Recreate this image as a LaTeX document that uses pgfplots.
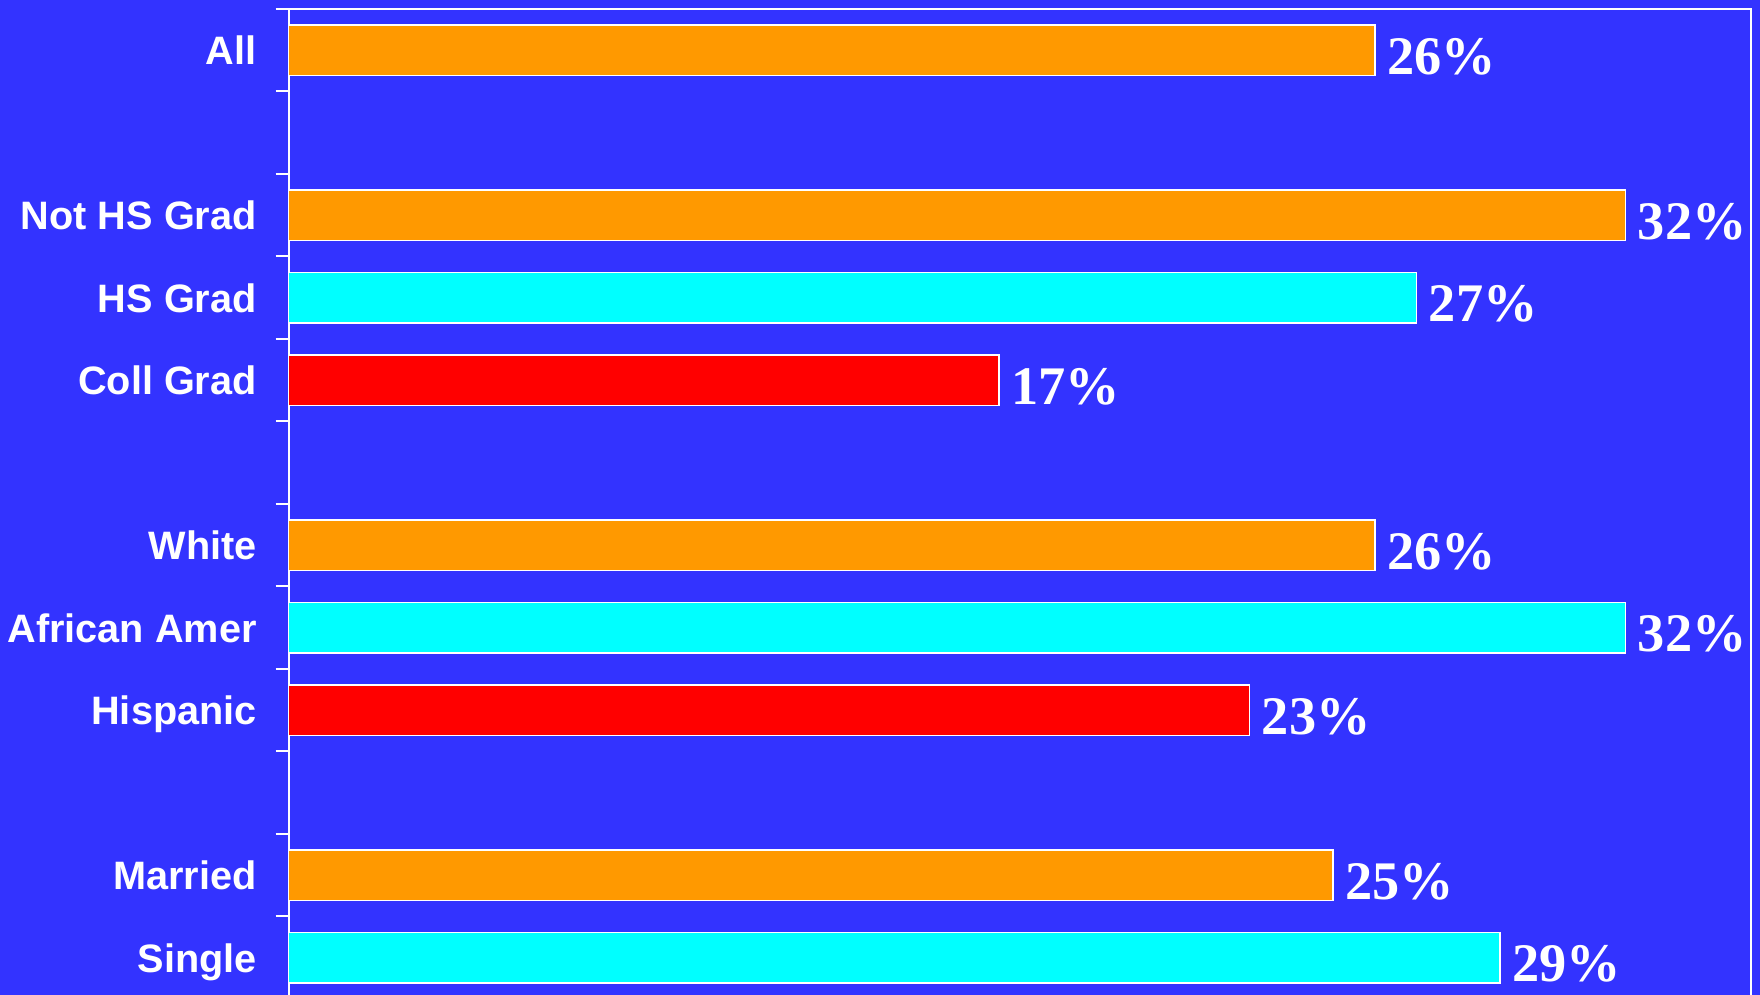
\documentclass[border=0pt]{standalone}
\usepackage{pgfplots}
\pgfplotsset{compat=1.18}
\usepackage{fontspec}
\setmainfont{Liberation Sans}
\newfontfamily\serifb{Liberation Serif}
\definecolor{bg}{RGB}{51,51,255}
\definecolor{orangeb}{RGB}{255,153,0}
\definecolor{cyanb}{RGB}{0,255,255}
\definecolor{redb}{RGB}{255,0,0}
\begin{document}
\begin{tikzpicture}
\fill[bg] (-86.6pt,1.2pt) rectangle (441.4pt,299.7pt);
\begin{axis}[
  at={(0,0)}, anchor=south west,
  scale only axis, width=438.6pt, height=297pt,
  xbar, bar shift=0pt, bar width=0.61,
  xmin=0, xmax=35, ymin=-0.5, ymax=11.5, y dir=reverse,
  axis line style={white, line width=0.6pt},
  xtick=\empty,
  ytick={0,2,3,4,6,7,8,10,11},
  yticklabels={All,Not HS Grad,HS Grad,Coll Grad,White,African Amer,Hispanic,Married,Single},
  major tick length=0pt,
  minor ytick={-0.5,0.5,...,11.5},
  minor tick length=3.9pt,
  tick align=outside,
  tick style={white, line width=0.6pt},
  ytick pos=left,
  yticklabel style={font=\bfseries\fontsize{11.9}{12}\selectfont, text=white, inner sep=0pt, text depth=0pt, xshift=-9.4pt},
  nodes near coords={\pgfmathprintnumber[assume math mode=true]{\pgfplotspointmeta}\%},
  nodes near coords style={font=\serifb\bfseries\fontsize{16.3}{17}\selectfont, text=white, anchor=west, inner sep=0pt, text depth=0pt, xshift=3.5pt, yshift=-1.8pt},
  point meta=x,
  every axis plot/.append style={draw=white, line width=0.5pt},
  clip=false,
]
\addplot[fill=orangeb, draw=white] coordinates {(26,0) (32,2) (26,6) (25,10)};
\addplot[fill=cyanb, draw=white] coordinates {(27,3) (32,7) (29,11)};
\addplot[fill=redb, draw=white] coordinates {(17,4) (23,8)};
\end{axis}
\pgfresetboundingbox
\path[use as bounding box] (-86.6pt,1.2pt) rectangle (441.4pt,299.7pt);
\end{tikzpicture}
\end{document}
